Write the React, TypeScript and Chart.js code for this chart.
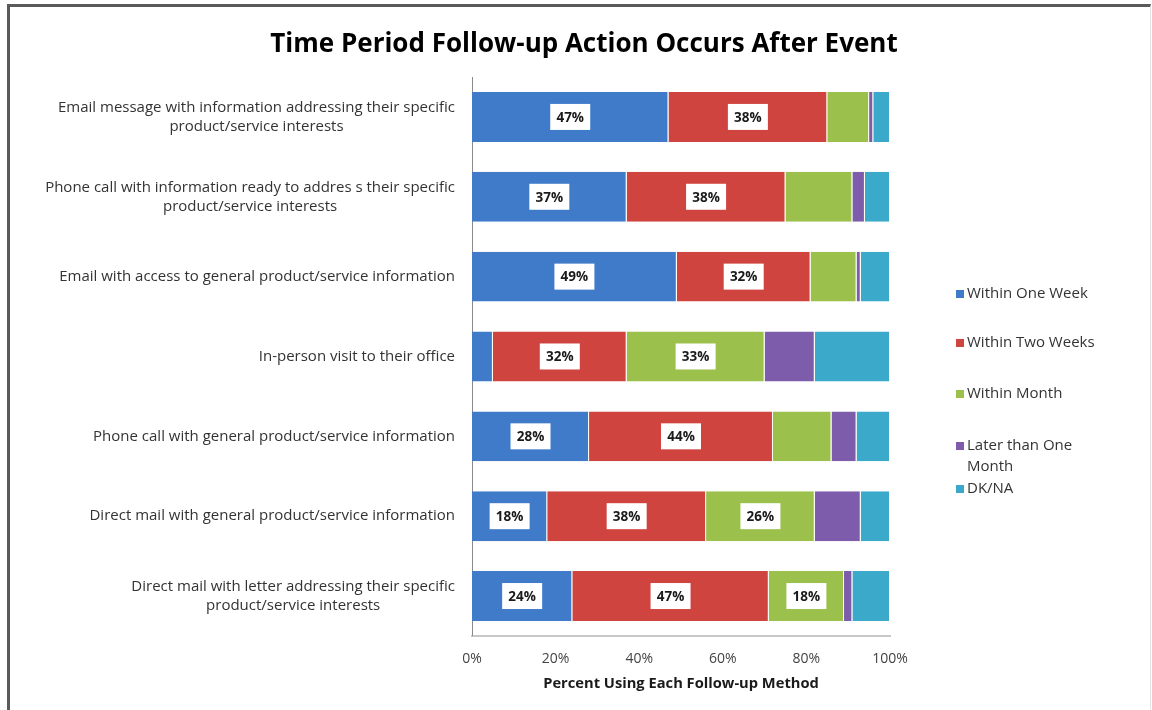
import React, { useEffect, useRef } from "react";
import { Chart, registerables } from "chart.js";

Chart.register(...registerables);

const CHART_TITLE = "Time Period Follow-up Action Occurs After Event";
const X_AXIS_TITLE = "Percent Using Each Follow-up Method";

const CATEGORIES: string[][] = [
  ["Email message with information addressing their specific", "product/service interests"],
  ["Phone call with information ready to addres s their specific", "product/service interests"],
  ["Email with access to general product/service information"],
  ["In-person visit to their office"],
  ["Phone call with general product/service information"],
  ["Direct mail with general product/service information"],
  ["Direct mail with letter addressing their specific", "product/service interests"],
];

const SERIES_NAMES = ["Within One Week", "Within Two Weeks", "Within Month", "Later than One Month", "DK/NA"];
const LEGEND_LINES: string[][] = [
  ["Within One Week"],
  ["Within Two Weeks"],
  ["Within Month"],
  ["Later than One", "Month"],
  ["DK/NA"],
];

const WITHIN_ONE_WEEK = [47, 37, 49, 5, 28, 18, 24];
const WITHIN_TWO_WEEKS = [38, 38, 32, 32, 44, 38, 47];
const WITHIN_MONTH = [10, 16, 11, 33, 14, 26, 18];
const LATER_THAN_ONE_MONTH = [1, 3, 1, 12, 6, 11, 2];
const DK_NA = [4, 6, 7, 18, 8, 7, 9];

const X_TICK_VALUES = [0, 20, 40, 60, 80, 100];
const X_TICK_LABELS = ["0%", "20%", "40%", "60%", "80%", "100%"];

const COLORS = ["#3F7BC9", "#D0443F", "#9BC04C", "#7D5CAB", "#3BA9CA"];
const LABELLED_SERIES = [0, 1, 2];
const MIN_LABEL_VALUE = 18;

const FONT = "'Open Sans', 'Noto Sans', sans-serif";

const customPlugin = {
  id: "customDecor",
  afterDatasetsDraw(chart: any) {
    const ctx = chart.ctx;
    ctx.save();
    ctx.font = `bold 13.5px ${FONT}`;
    ctx.textAlign = "center";
    ctx.textBaseline = "middle";
    LABELLED_SERIES.forEach((di) => {
      const meta = chart.getDatasetMeta(di);
      const values = chart.data.datasets[di].data as number[];
      meta.data.forEach((el: any, j: number) => {
        const v = values[j];
        if (v < MIN_LABEL_VALUE) return;
        const cx = (el.x + el.base) / 2;
        const cy = el.y;
        const txt = `${v}%`;
        ctx.fillStyle = "#ffffff";
        ctx.fillRect(cx - 20, cy - 13, 40, 26);
        ctx.fillStyle = "#1a1a1a";
        ctx.fillText(txt, cx, cy + 1);
      });
    });
    ctx.restore();
  },
  afterDraw(chart: any) {
    const ctx = chart.ctx;
    const area = chart.chartArea;
    const yScale = chart.scales.y;
    ctx.save();
    // Title
    ctx.fillStyle = "#000000";
    ctx.font = `bold 26px ${FONT}`;
    ctx.textAlign = "center";
    ctx.textBaseline = "middle";
    ctx.fillText(CHART_TITLE, 584, 45);

    // Category labels (block right-aligned, lines centered)
    ctx.font = `15px ${FONT}`;
    ctx.fillStyle = "#333333";
    const rightEdge = area.left - 17;
    const lineH = 19;
    CATEGORIES.forEach((lines, i) => {
      const yc = yScale.getPixelForValue(i);
      const widest = Math.max(...lines.map((l) => ctx.measureText(l).width));
      const cx = rightEdge - widest / 2;
      lines.forEach((l, k) => {
        ctx.fillText(l, cx, yc + (k - (lines.length - 1) / 2) * lineH);
      });
    });

    // Legend
    ctx.font = `15px ${FONT}`;
    ctx.textAlign = "left";
    const lx = area.right + 66;
    const legendTops = [294, 343, 394, 446, 489];
    LEGEND_LINES.forEach((lines, i) => {
      const y0 = legendTops[i];
      ctx.fillStyle = COLORS[i];
      ctx.fillRect(lx, y0 - 4, 8, 8);
      ctx.fillStyle = "#333333";
      lines.forEach((l, k) => {
        ctx.fillText(l, lx + 11, y0 + k * 21);
      });
    });
    ctx.restore();
  },
};

export default function App() {
  const canvasRef = useRef<HTMLCanvasElement | null>(null);

  useEffect(() => {
    if (!canvasRef.current) return;
    const seriesData = [WITHIN_ONE_WEEK, WITHIN_TWO_WEEKS, WITHIN_MONTH, LATER_THAN_ONE_MONTH, DK_NA];
    const chart = new Chart(canvasRef.current, {
      type: "bar",
      data: {
        labels: CATEGORIES.map((c) => c.join(" ")),
        datasets: SERIES_NAMES.map((name, i) => ({
          label: name,
          data: seriesData[i],
          backgroundColor: COLORS[i],
          borderColor: "rgba(255,255,240,0.85)",
          borderWidth: { right: 1, left: 0, top: 0, bottom: 0 },
          borderSkipped: false,
          barPercentage: 0.625,
          categoryPercentage: 1,
        })),
      },
      options: {
        indexAxis: "y",
        animation: false,
        responsive: true,
        maintainAspectRatio: false,
        layout: { padding: { left: 472, right: 262, top: 77, bottom: 17 } },
        plugins: {
          legend: { display: false },
          title: { display: false },
          tooltip: { enabled: false },
        },
        scales: {
          x: {
            stacked: true,
            min: 0,
            max: 100,
            afterBuildTicks: (scale: any) => {
              scale.ticks = X_TICK_VALUES.map((v) => ({ value: v }));
            },
            ticks: {
              padding: 15,
              maxRotation: 0,
              color: "#444444",
              font: { family: FONT, size: 14 },
              callback: (v: any) => X_TICK_LABELS[X_TICK_VALUES.indexOf(Number(v))] ?? "",
            },
            grid: { display: false, drawTicks: false },
            border: { display: true, color: "#c8c8c8", width: 2 },
            title: {
              display: true,
              text: X_AXIS_TITLE,
              color: "#1a1a1a",
              font: { family: FONT, size: 14.7, weight: "bold" },
              padding: { top: -7.4, bottom: 0 },
            },
          },
          y: {
            stacked: true,
            ticks: { display: false },
            grid: { display: false, drawTicks: false },
            border: { display: true, color: "#8a8a8a", width: 1 },
          },
        },
      },
      plugins: [customPlugin],
    });
    return () => chart.destroy();
  }, []);

  return (
    <div style={{ position: "absolute", left: 0, top: 0, width: 1152, height: 710, background: "#ffffff" }}>
      <div
        style={{
          position: "absolute",
          left: 7,
          top: 4,
          right: 1,
          bottom: -4,
          borderLeft: "3px solid #5a5a5a",
          borderTop: "3px solid #5a5a5a",
          borderRight: "1px solid #e4e4e4",
        }}
      />
      <canvas ref={canvasRef} style={{ position: "absolute", left: 0, top: 0, width: 1152, height: 710 }} />
    </div>
  );
}
